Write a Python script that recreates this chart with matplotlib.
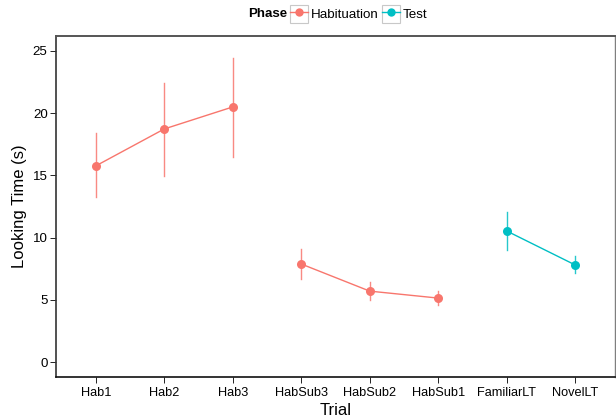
import matplotlib
matplotlib.use('Agg')
import matplotlib.pyplot as plt
from matplotlib.patches import Rectangle
from matplotlib.lines import Line2D
from matplotlib.legend_handler import HandlerTuple

plt.rcParams['font.family'] = ['Liberation Sans', 'DejaVu Sans']

trials = ['Hab1', 'Hab2', 'Hab3', 'HabSub3', 'HabSub2', 'HabSub1', 'FamiliarLT', 'NovelLT']
phase = ['Habituation'] * 6 + ['Test'] * 2
block = ['Hab'] * 3 + ['HabSub'] * 3 + ['Test'] * 2
means = [15.76, 18.73, 20.5, 7.88, 5.7, 5.14, 10.53, 7.8]
upper = [18.4, 22.4, 24.4, 9.08, 6.43, 5.7, 12.06, 8.5]
lower = [13.26, 14.95, 16.5, 6.67, 4.98, 4.58, 9.0, 7.15]

colors = {'Habituation': '#F8766D', 'Test': '#00BFC4'}

fig = plt.figure(figsize=(6.16, 4.19), dpi=100)
ax = fig.add_axes([56 / 616, 42 / 419, 559 / 616, 341 / 419])

xs = list(range(1, len(trials) + 1))
for b in ['Hab', 'HabSub', 'Test']:
    idx = [i for i in range(len(trials)) if block[i] == b]
    c = colors[phase[idx[0]]]
    for i in idx:
        ax.plot([xs[i], xs[i]], [lower[i], upper[i]], color=c, lw=1.0, alpha=0.85, zorder=2)
    ax.plot([xs[i] for i in idx], [means[i] for i in idx], color=c, lw=1.0, zorder=3)
    ax.plot([xs[i] for i in idx], [means[i] for i in idx], 'o', color=c, ms=6.5,
            mec='none', zorder=4)

ax.set_xlim(0.42, 8.58)
ax.set_ylim(-1.2, 26.2)
ax.set_xticks(xs)
ax.set_xticklabels(trials, fontsize=9.2)
ax.set_yticks([0, 5, 10, 15, 20, 25])
ax.tick_params(axis='y', labelsize=9.6, length=4, width=0.6, color='black', pad=2)
ax.tick_params(axis='x', length=4, width=0.6, color='black', pad=3)

for s in ['top', 'right']:
    ax.spines[s].set_color('#7f7f7f')
    ax.spines[s].set_linewidth(1.0)
ax.spines['top'].set_color('#555555')
ax.spines['top'].set_linewidth(1.4)
ax.spines['left'].set_color('#333333')
ax.spines['left'].set_linewidth(1.2)
ax.spines['bottom'].set_color('#111111')
ax.spines['bottom'].set_linewidth(1.2)

ax.set_xlabel('Trial', fontsize=12, labelpad=3)
ax.set_ylabel('Looking Time (s)', fontsize=12, labelpad=4)

handles = []
for ph in ['Habituation', 'Test']:
    box = Rectangle((0, 0), 1, 1, facecolor='white', edgecolor='#c8c8c8', lw=0.8)
    ln = Line2D([], [], color=colors[ph], lw=1.0, marker='o', ms=6, mec='none')
    handles.append((box, ln))

fig.text(248 / 616, 1 - 14 / 419, 'Phase', fontsize=9.6, fontweight='bold',
         ha='left', va='center')
fig.legend(handles, ['Habituation', 'Test'], loc='center left',
           bbox_to_anchor=(290 / 616, 1 - 14 / 419), ncol=2, frameon=False,
           fontsize=9.6, handlelength=1.35, handleheight=1.6, handletextpad=0.25,
           columnspacing=0.2, borderpad=0, borderaxespad=0,
           handler_map={tuple: HandlerTuple(ndivide=1, pad=0)})

fig.savefig('out.png', dpi=100)
